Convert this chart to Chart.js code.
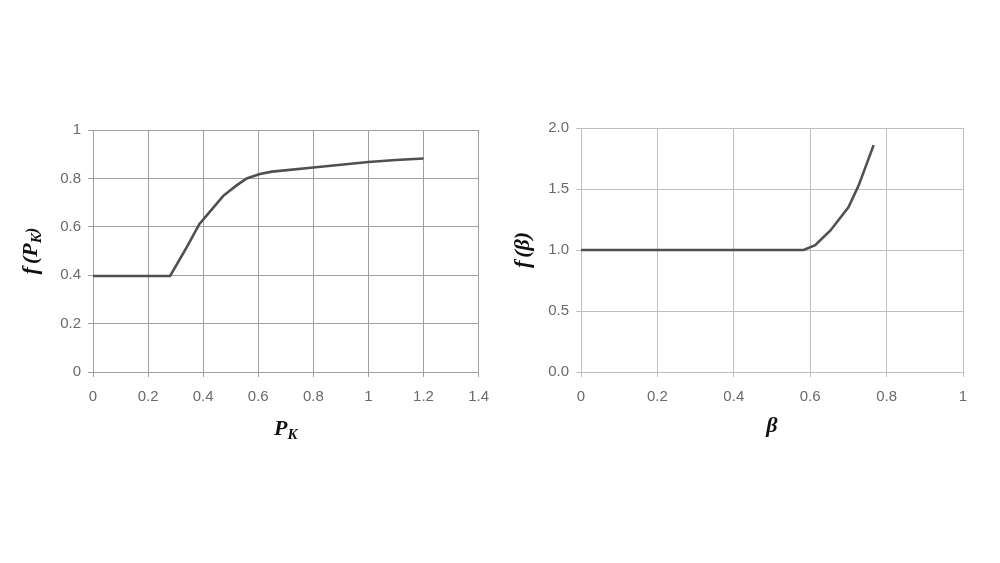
<!DOCTYPE html>
<html>
<head>
<meta charset="utf-8">
<script src="https://cdn.jsdelivr.net/npm/chart.js@4.4.1/dist/chart.umd.min.js"></script>
<style>
  html, body { margin: 0; padding: 0; background: #fff; }
  body { width: 1000px; height: 563px; position: relative; overflow: hidden; }
  canvas { position: absolute; }
</style>
</head>
<body>
<canvas id="chartPk" width="500" height="360" style="left:0px; top:100px;"></canvas>
<canvas id="chartBeta" width="500" height="360" style="left:500px; top:100px;"></canvas>
<script>
// f(P_K) curve
const pkX = [0, 0.28, 0.34, 0.386, 0.43, 0.473, 0.52, 0.558, 0.606, 0.65, 0.8, 1.0, 1.1, 1.2];
const pkY = [0.397, 0.397, 0.515, 0.611, 0.67, 0.728, 0.77, 0.80, 0.818, 0.828, 0.845, 0.868, 0.876, 0.882];
const pkXTicks = ['0', '0.2', '0.4', '0.6', '0.8', '1', '1.2', '1.4'];
const pkYTicks = ['0', '0.2', '0.4', '0.6', '0.8', '1'];

// f(beta) curve
const betaX = [0, 0.583, 0.613, 0.653, 0.70, 0.727, 0.766];
const betaY = [1, 1, 1.04, 1.16, 1.35, 1.53, 1.86];
const betaXTicks = ['0', '0.2', '0.4', '0.6', '0.8', '1'];
const betaYTicks = ['0.0', '0.5', '1.0', '1.5', '2.0'];

const serif = '"Liberation Serif", "DejaVu Serif", serif';

// titulos dos eixos com subscrito (f(P_K), P_K ...)
const axisTitles = {
  id: 'axisTitles',
  afterDraw(chart, args, opts) {
    const ctx = chart.ctx;
    const a = chart.chartArea;
    ctx.save();
    ctx.fillStyle = '#111';
    ctx.textBaseline = 'alphabetic';

    function drawParts(parts, cx, cy) {
      let w = 0;
      parts.forEach(p => {
        ctx.font = 'italic bold ' + p.size + 'px ' + serif;
        w += ctx.measureText(p.t).width + (p.gap || 0);
      });
      let x = cx - w / 2;
      parts.forEach(p => {
        ctx.font = 'italic bold ' + p.size + 'px ' + serif;
        ctx.fillText(p.t, x, cy + (p.dy || 0));
        x += ctx.measureText(p.t).width + (p.gap || 0);
      });
    }

    // x
    drawParts(opts.x, (a.left + a.right) / 2, a.bottom + opts.xOffset);
    // y (rotacionado)
    ctx.translate(a.left - opts.yOffset, (a.top + a.bottom) / 2);
    ctx.rotate(-Math.PI / 2);
    drawParts(opts.y, 0, 0);
    ctx.restore();
  }
};

function makeChart(id, xs, ys, xMax, yMax, xStep, yStep, xTicks, yTicks, yWidth, padRight, padTop, gridColor, titles) {
  const ctx = document.getElementById(id).getContext('2d');
  return new Chart(ctx, {
    type: 'scatter',
    data: {
      datasets: [{
        data: xs.map((x, i) => ({ x: x, y: ys[i] })),
        showLine: true,
        borderColor: '#505050',
        borderWidth: 2.6,
        pointRadius: 0,
        tension: 0
      }]
    },
    options: {
      responsive: false,
      animation: false,
      layout: { padding: { left: 0, right: padRight, top: padTop, bottom: 0 } },
      plugins: {
        legend: { display: false },
        tooltip: { enabled: false },
        axisTitles: titles
      },
      scales: {
        x: {
          type: 'linear',
          min: 0, max: xMax,
          afterFit: s => { s.height = 88; },
          grid: { color: gridColor, lineWidth: 1, tickLength: 5, tickColor: gridColor },
          border: { color: gridColor },
          ticks: {
            stepSize: xStep,
            color: '#6a6a6a',
            padding: 11,
            font: { family: '"Liberation Sans", Arial, sans-serif', size: 15 },
            callback: (v, i) => xTicks[i]
          }
        },
        y: {
          type: 'linear',
          min: 0, max: yMax,
          afterFit: s => { s.width = yWidth; },
          grid: { color: gridColor, lineWidth: 1, tickLength: 5, tickColor: gridColor },
          border: { color: gridColor },
          ticks: {
            stepSize: yStep,
            color: '#6a6a6a',
            padding: 7,
            font: { family: '"Liberation Sans", Arial, sans-serif', size: 15 },
            callback: (v, i) => yTicks[i]
          }
        }
      }
    },
    plugins: [axisTitles]
  });
}

document.addEventListener('DOMContentLoaded', function () {
  makeChart('chartPk', pkX, pkY, 1.4, 1, 0.2, 0.2, pkXTicks, pkYTicks, 93, 21, 30, '#a0a0a0', {
    x: [{ t: 'P', size: 22 }, { t: 'K', size: 15, dy: 4 }],
    y: [{ t: 'f', size: 22, gap: 3 }, { t: '(', size: 22 }, { t: 'P', size: 22 }, { t: 'K', size: 15, dy: 4 }, { t: ')', size: 17 }],
    xOffset: 63,
    yOffset: 56
  });
  makeChart('chartBeta', betaX, betaY, 1, 2, 0.2, 0.5, betaXTicks, betaYTicks, 81, 37, 28, '#c0c0c0', {
    x: [{ t: 'β', size: 22 }],
    y: [{ t: 'f', size: 22, gap: 3 }, { t: '(', size: 22 }, { t: 'β', size: 22 }, { t: ')', size: 22 }],
    xOffset: 60,
    yOffset: 52
  });
});
</script>
</body>
</html>
